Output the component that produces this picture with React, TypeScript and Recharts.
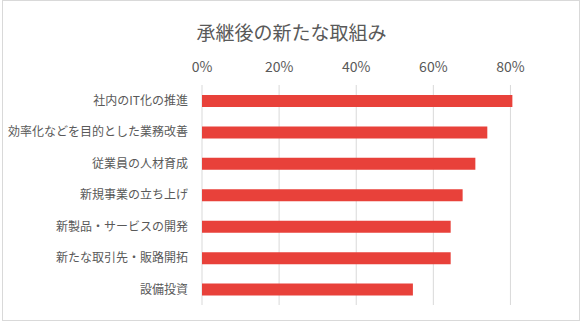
import { BarChart, Bar, XAxis, YAxis, CartesianGrid } from "recharts";

const categories = [
  "社内のIT化の推進",
  "効率化などを目的とした業務改善",
  "従業員の人材育成",
  "新規事業の立ち上げ",
  "新製品・サービスの開発",
  "新たな取引先・販路開拓",
  "設備投資",
];
const shares = [0.805, 0.74, 0.709, 0.676, 0.645, 0.645, 0.547];
const xTicks = [0, 0.2, 0.4, 0.6, 0.8];
const xMax = 0.9;

const data = categories.map((name, i) => ({ name, value: shares[i] }));

const font = '"Noto Sans CJK JP", "Noto Sans", sans-serif';

export default function App() {
  return (
    <div style={{ position: "fixed", left: 0, top: 0, width: 583, height: 325, background: "#fff", fontFamily: font }}>
      <div
        style={{
          position: "absolute",
          left: 2,
          top: 0,
          width: 578,
          height: 321,
          border: "1px solid #d9d9d9",
          boxSizing: "border-box",
        }}
      />
      <div
        style={{
          position: "absolute",
          left: 0,
          width: 583,
          top: 19,
          textAlign: "center",
          fontSize: 19,
          color: "#595959",
          lineHeight: "26px",
        }}
      >
        承継後の新たな取組み
      </div>
      <BarChart
        width={583}
        height={325}
        data={data}
        layout="vertical"
        margin={{ top: 55, right: 34, bottom: 20, left: 0 }}
        barSize={12}
      >
        <CartesianGrid
          horizontal={false}
          stroke="#d9d9d9"
          verticalCoordinatesGenerator={({ offset }: any) =>
            xTicks.map((t) => offset.left + (offset.width * t) / xMax)
          }
        />
        <XAxis
          type="number"
          orientation="top"
          domain={[0, xMax]}
          ticks={xTicks}
          tickFormatter={(v: number) => `${Math.round(v * 100)}%`}
          axisLine={false}
          tickLine={false}
          height={30}
          tickMargin={7}
          tick={{ fill: "#595959", fontSize: 14, fontFamily: font }}
        />
        <YAxis
          type="category"
          dataKey="name"
          width={202}
          axisLine={false}
          tickLine={false}
          tickMargin={8}
          tick={{ fill: "#595959", fontSize: 12, fontFamily: font }}
        />
        <Bar dataKey="value" fill="#e8413a" isAnimationActive={false} />
      </BarChart>
    </div>
  );
}
